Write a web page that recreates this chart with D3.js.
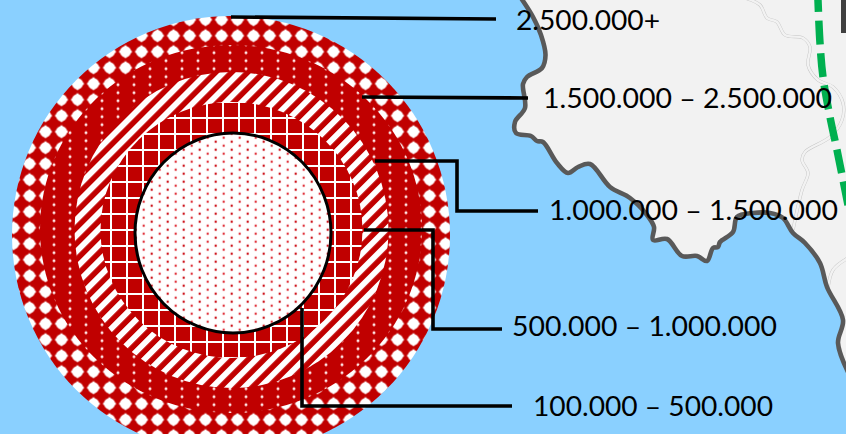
<!DOCTYPE html>
<html>
<head>
<meta charset="utf-8">
<script src="https://cdn.jsdelivr.net/npm/d3@7"></script>
<style>
  html, body { margin: 0; padding: 0; background: #8ad0ff; overflow: hidden; }
  svg { display: block; }
</style>
</head>
<body>
<svg id="chart" width="846" height="434"></svg>
<script>
// population classes, outermost ring first
const bandLabels = ['2.500.000+', '1.500.000 – 2.500.000', '1.000.000 – 1.500.000', '500.000 – 1.000.000', '100.000 – 500.000'];
const bandRadiiX = [219, 191, 157, 131, 98];
const bandRadiiY = [219, 184, 158, 128, 100];
const bandCentresX = [231, 231, 231.5, 231.5, 233];
const bandCentresY = [235, 229, 230, 230, 233];

// annotation leaders, one per class
const leaderX = [[231, 496], [362, 528], [375, 457, 457, 538], [364, 433, 433, 502], [302, 302, 512]];
const leaderY = [[17, 19], [97, 98], [161, 161, 211, 211], [230, 230, 329, 329], [308, 406, 406]];
const labelX = [516, 543, 549, 512, 533];
const labelBaseline = [30, 108, 220, 336, 416];
const labelWidths = [144, 289, 289, 265, 240];

// map background
const coastX = [521, 533, 541, 545.5, 542, 527, 523, 525, 515, 516, 531, 537, 543, 557, 568, 578, 590, 610, 630, 647, 654, 653, 667, 682, 697, 707, 713, 718, 720, 733, 737, 753, 770, 783, 793, 805, 820, 827, 843, 838, 848];
const coastY = [-2, 17, 35, 55, 68, 77, 84, 108, 122, 133, 136, 141, 142, 163, 173, 167, 164, 187, 198, 215, 227, 240, 239, 256, 256, 261, 248, 247, 242, 232, 217, 213, 213, 218, 233, 243, 263, 287, 320, 343, 372];
const riverX = [745, 760, 767, 777, 785, 803, 810, 808, 818, 833, 843, 842, 830, 805, 802, 808, 802, 793];
const riverY = [-2, 5, 18, 22, 35, 38, 47, 65, 80, 87, 103, 120, 137, 152, 160, 173, 190, 230];
const river2X = [848, 833, 828];
const river2Y = [258, 270, 288];
const borderX = [817.5, 820, 823, 830, 837, 848];
const borderY = [-12, 43, 77, 117, 150, 205];

const RED = '#c00000';
const svg = d3.select('#chart');
const defs = svg.append('defs');

defs.append('filter').attr('id', 'soft')
  .attr('x', '-5%').attr('y', '-5%').attr('width', '110%').attr('height', '110%')
  .append('feGaussianBlur').attr('stdDeviation', 0.5);

const tile = (id, w, h, x, y, bg, rot) => {
  const p = defs.append('pattern').attr('id', id)
    .attr('patternUnits', 'userSpaceOnUse')
    .attr('x', x).attr('y', y).attr('width', w).attr('height', h);
  if (rot) p.attr('patternTransform', `rotate(${rot})`);
  p.append('rect').attr('width', w).attr('height', h).attr('fill', bg);
  return p;
};

// big white blobs, a circle with a small diamond through it
const blob = tile('pBlob', 16, 16, 5.5, 11.7, RED);
blob.append('circle').attr('cx', 8).attr('cy', 8).attr('r', 5.5).attr('fill', '#fff');
blob.append('path').attr('d', 'M8 1.2L14.8 8L8 14.8L1.2 8Z').attr('fill', '#fff');

// small dots on solid red
const dots = tile('pDots', 16, 8, 6, 0.7, RED);
dots.append('circle').attr('cx', 0).attr('cy', 4).attr('r', 1.5).attr('fill', '#ffe4e4');
dots.append('circle').attr('cx', 16).attr('cy', 4).attr('r', 1.5).attr('fill', '#ffe4e4');

// diagonal stripes
tile('pStripes', 11.3, 11.3, 3, 0, RED, 45).append('rect')
  .attr('x', 0).attr('width', 5.8).attr('height', 11.3).attr('fill', '#fff');

// white lattice
const grid = tile('pGrid', 16, 16, 14, 5, RED);
grid.append('rect').attr('width', 2).attr('height', 16).attr('fill', '#fff');
grid.append('rect').attr('width', 16).attr('height', 2).attr('fill', '#fff');

// fine red dots on white
const fine = tile('pFine', 16, 8, 207.7, 197.7, '#fff');
fine.append('circle').attr('cx', 0).attr('cy', 4).attr('r', 1.2).attr('fill', '#e03038');
fine.append('circle').attr('cx', 16).attr('cy', 4).attr('r', 1.2).attr('fill', '#e03038');
fine.append('circle').attr('cx', 8).attr('cy', 0).attr('r', 1.2).attr('fill', '#cc0c14');
fine.append('circle').attr('cx', 8).attr('cy', 8).attr('r', 1.2).attr('fill', '#cc0c14');

const bandFill = d3.scaleOrdinal().domain(bandLabels).range(['pBlob', 'pDots', 'pStripes', 'pGrid', 'pFine']);
const bandRx = d3.scaleOrdinal().domain(bandLabels).range(bandRadiiX);
const bandRy = d3.scaleOrdinal().domain(bandLabels).range(bandRadiiY);
const bandCx = d3.scaleOrdinal().domain(bandLabels).range(bandCentresX);
const bandCy = d3.scaleOrdinal().domain(bandLabels).range(bandCentresY);

const zipXY = (xs, ys) => xs.map((x, i) => [x, ys[i]]);
const smooth = d3.line().curve(d3.curveCatmullRom.alpha(0.5));

// land
svg.append('path').attr('d', smooth(zipXY(coastX, coastY)) + 'L850,372L850,-2Z').attr('fill', '#f2f2f2');
[zipXY(river2X, river2Y), zipXY(riverX, riverY)].forEach(r => {
  svg.append('path').attr('d', smooth(r))
    .attr('fill', 'none').attr('stroke', '#c4c4c4').attr('stroke-width', 3.2);
  svg.append('path').attr('d', smooth(r))
    .attr('fill', 'none').attr('stroke', '#f2f2f2').attr('stroke-width', 2.4);
});
svg.append('path').attr('d', smooth(zipXY(coastX, coastY)))
  .attr('fill', 'none').attr('stroke', '#595959').attr('stroke-width', 4.6).attr('stroke-linejoin', 'round');

svg.append('path').attr('d', smooth(zipXY(borderX, borderY)))
  .attr('fill', 'none').attr('stroke', '#00b050').attr('stroke-width', 7.5)
  .attr('stroke-dasharray', '24 8.6');
svg.append('rect').attr('x', 841).attr('y', -2).attr('width', 8).attr('height', 35).attr('fill', '#404040');

// rings
svg.append('g').attr('filter', 'url(#soft)')
  .selectAll('ellipse').data(bandLabels).enter().append('ellipse')
  .attr('cx', d => bandCx(d))
  .attr('cy', d => bandCy(d))
  .attr('rx', d => bandRx(d))
  .attr('ry', d => bandRy(d))
  .attr('fill', d => `url(#${bandFill(d)})`);

const inner = bandLabels[bandLabels.length - 1];
svg.append('ellipse')
  .attr('cx', bandCx(inner)).attr('cy', bandCy(inner))
  .attr('rx', bandRx(inner)).attr('ry', bandRy(inner))
  .attr('fill', 'none').attr('stroke', '#000').attr('stroke-width', 3);

// leaders
svg.append('g').selectAll('path').data(bandLabels).enter().append('path')
  .attr('d', (d, i) => d3.line()(zipXY(leaderX[i], leaderY[i])))
  .attr('fill', 'none').attr('stroke', '#000').attr('stroke-width', 3.6)
  .attr('stroke-linejoin', 'miter');

// labels
svg.append('g').selectAll('text').data(bandLabels).enter().append('text')
  .attr('x', (d, i) => labelX[i])
  .attr('y', (d, i) => labelBaseline[i])
  .attr('textLength', (d, i) => labelWidths[i])
  .attr('lengthAdjust', 'spacingAndGlyphs')
  .attr('font-family', 'Lato, "Open Sans", sans-serif')
  .attr('font-size', 27)
  .attr('fill', '#000')
  .text(d => d);
</script>
</body>
</html>
